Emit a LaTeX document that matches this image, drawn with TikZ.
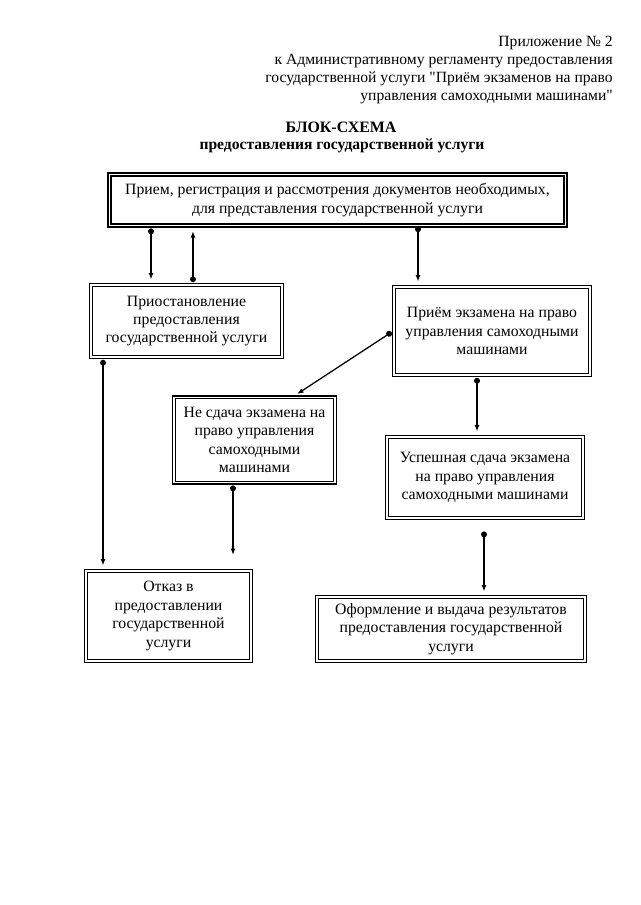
\documentclass[tikz,border=0pt]{standalone}
\usepackage{fontspec}
\setmainfont{Liberation Serif}
\usetikzlibrary{arrows.meta, positioning, calc}

\begin{document}
\begin{tikzpicture}[
  x=0.025cm, y=-0.025cm,
  stagebox/.style={draw, line width=0.95pt, double=white, double distance=1.1pt, align=center, inner sep=2pt, font=\fontsize{11.2}{13.1}\selectfont},
  hdr/.style={anchor=east, inner sep=0pt, font=\fontsize{11.1}{13}\selectfont},
  link/.style={{Circle[length=4.2pt]}-{Latex[length=4.5pt, width=3.6pt]}, line width=0.9pt, shorten <=1.5pt, shorten >=3.5pt},
]
\useasboundingbox (0,0) rectangle (640,905);

% Header
\node[hdr] (h1) at (613,43) {Приложение № 2};
\node[hdr] (h2) at (613,61) {к Административному регламенту предоставления};
\node[hdr] (h3) at (613,79) {государственной услуги \textquotedbl Приём экзаменов на право};
\node[hdr] (h4) at (613,97) {управления самоходными машинами\textquotedbl};

% Title
\node[font=\fontsize{11.3}{14}\selectfont\bfseries, inner sep=0pt] (t1) at (341,127) {БЛОК-СХЕМА};
\node[font=\fontsize{11.1}{13}\selectfont\bfseries, inner sep=0pt] (t2) at (342,146) {предоставления государственной услуги};

% Stages
\node[stagebox, minimum width=11.4cm, minimum height=1.28cm] (recv) at (337.5,200)
  {Прием, регистрация и рассмотрения документов необходимых,\\ для представления государственной услуги};
\node[stagebox, minimum width=4.78cm, minimum height=1.8cm] (susp) at (186.5,321)
  {Приостановление\\ предоставления\\ государственной услуги};
\node[stagebox, minimum width=4.9cm, minimum height=2.2cm] (exam) at (492,331)
  {Приём экзамена на право\\ управления самоходными\\ машинами};
\node[stagebox, minimum width=4.03cm, minimum height=2.13cm] (fail) at (254.5,440)
  {Не сдача экзамена на\\ право управления\\ самоходными\\ машинами};
\node[stagebox, minimum width=4.9cm, minimum height=2.03cm] (pass) at (485,477.5)
  {Успешная сдача экзамена\\ на право управления\\ самоходными машинами};
\node[stagebox, minimum width=4.13cm, minimum height=2.25cm] (deny) at (168.5,616)
  {Отказ в\\ предоставлении\\ государственной\\ услуги};
\node[stagebox, minimum width=6.7cm, minimum height=1.6cm] (issue) at (451,629)
  {Оформление и выдача результатов\\ предоставления государственной\\ услуги};

% Connector columns
\coordinate (c1) at (151,0);
\coordinate (c2) at (193,0);
\coordinate (c3) at (418,0);
\coordinate (c4) at (293,0);
\coordinate (c5) at (477,0);
\coordinate (c6) at (103,0);
\coordinate (c7) at (233,0);
\coordinate (c8) at (484,0);

% Connectors
\draw[link] (recv.south -| c1) -- (susp.north -| c1);
\draw[link] (susp.north -| c2) -- (recv.south -| c2);
\draw[link, shorten <=0pt] (recv.south -| c3) -- (exam.north -| c3);
\draw[link] (exam.west) -- (fail.north -| c4);
\draw[link] (exam.south -| c5) -- (pass.north -| c5);
\draw[link] (susp.south -| c6) -- (deny.north -| c6);
\draw[link, shorten >=11pt] (fail.south -| c7) -- (deny.north -| c7);
\draw[link, shorten <=9pt] (pass.south -| c8) -- (issue.north -| c8);
\end{tikzpicture}
\end{document}
